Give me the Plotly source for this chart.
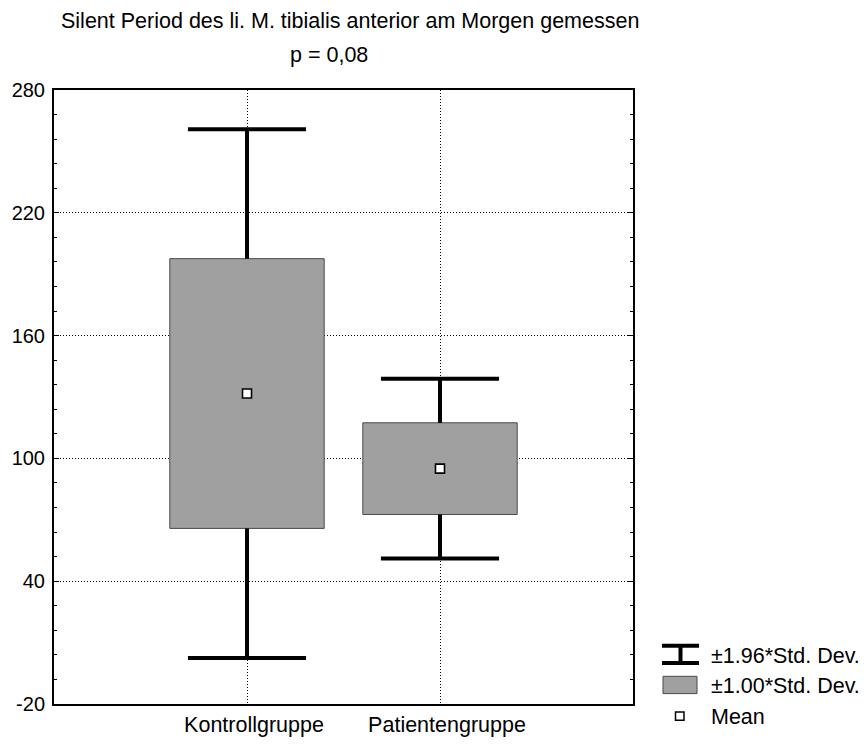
import plotly.graph_objects as go

# ---- data ----
groups = ["Kontrollgruppe", "Patientengruppe"]
means = [131.7, 95.0]
sds = [65.9, 22.4]
y_ticks = [-20, 40, 100, 160, 220, 280]
y_tick_text = ["-20", "40", "100", "160", "220", "280"]
title_line1 = "Silent Period des li. M. tibialis anterior am Morgen gemessen"
title_line2 = "p = 0,08"
legend_labels = ["±1.96*Std. Dev.", "±1.00*Std. Dev.", "Mean"]

FONT = "Liberation Sans, Arial, Helvetica, sans-serif"
W, H = 868, 749
ML, MR, MT, MB = 54, 235, 90, 38
PW, PH = W - ML - MR, H - MT - MB

def px(x):
    return (x - ML) / PW

def py(y):
    return (MT + PH - y) / PH

xpos = list(range(1, len(groups) + 1))
box_w = 0.8
cap_half = 0.306

fig = go.Figure()

# boxes (mean ± 1 SD)
fig.add_trace(go.Bar(
    x=xpos,
    y=[2 * s for s in sds],
    base=[m - s for m, s in zip(means, sds)],
    width=box_w,
    marker=dict(color="#a0a0a0", line=dict(color="#4a4a4a", width=1)),
    showlegend=False, hoverinfo="skip",
))

# whiskers (mean ± 1.96 SD)
for xi, m, s in zip(xpos, means, sds):
    hi = m + 1.96 * s
    lo = m - 1.96 * s
    for xs, ys in [
        ([xi, xi], [m + s, hi]),
        ([xi, xi], [m - s, lo]),
        ([xi - cap_half, xi + cap_half], [hi, hi]),
        ([xi - cap_half, xi + cap_half], [lo, lo]),
    ]:
        fig.add_trace(go.Scatter(
            x=xs, y=ys, mode="lines",
            line=dict(color="black", width=4),
            showlegend=False, hoverinfo="skip",
        ))

# means
fig.add_trace(go.Scatter(
    x=xpos, y=means, mode="markers",
    marker=dict(symbol="square", size=9, color="white",
                line=dict(color="black", width=1.6)),
    showlegend=False, hoverinfo="skip",
))

shapes = []
annotations = []
TF = 21.5

# titles
annotations.append(dict(text=title_line1, xref="paper", yref="paper",
                        x=px(59), y=py(20), xanchor="left", yanchor="middle",
                        showarrow=False, font=dict(family=FONT, size=TF, color="black")))
annotations.append(dict(text=title_line2, xref="paper", yref="paper",
                        x=px(288), y=py(55), xanchor="left", yanchor="middle",
                        showarrow=False, font=dict(family=FONT, size=TF, color="black")))

# legend (custom)
shapes.append(dict(type="line", xref="paper", yref="paper",
                   x0=px(662), x1=px(699), y0=py(652), y1=py(652),
                   line=dict(color="black", width=4)))
shapes.append(dict(type="line", xref="paper", yref="paper",
                   x0=px(662), x1=px(699), y0=py(669.5), y1=py(669.5),
                   line=dict(color="black", width=4)))
shapes.append(dict(type="line", xref="paper", yref="paper",
                   x0=px(680.5), x1=px(680.5), y0=py(652), y1=py(669.5),
                   line=dict(color="black", width=4)))
shapes.append(dict(type="rect", xref="paper", yref="paper",
                   x0=px(663), x1=px(697), y0=py(683), y1=py(700.5),
                   fillcolor="#a0a0a0", line=dict(color="#4a4a4a", width=1)))
shapes.append(dict(type="rect", xref="paper", yref="paper",
                   x0=px(675.5), x1=px(684), y0=py(719), y1=py(727.5),
                   fillcolor="white", line=dict(color="black", width=1.5)))

for lab, yy in zip(legend_labels, [662.5, 692.5, 724]):
    annotations.append(dict(text=lab, xref="paper", yref="paper",
                            x=px(708.5), y=py(yy), xanchor="left", yanchor="middle",
                            showarrow=False,
                            font=dict(family=FONT, size=TF, color="black")))

fig.update_layout(
    width=W, height=H,
    margin=dict(l=ML, r=MR, t=MT, b=MB, pad=0),
    paper_bgcolor="white", plot_bgcolor="white",
    font=dict(family=FONT, size=20, color="black"),
    shapes=shapes, annotations=annotations,
    showlegend=False,
    bargap=0,
)

fig.update_xaxes(
    range=[0, len(groups) + 1],
    tickmode="array", tickvals=xpos, ticktext=groups,
    ticks="", showline=True, linecolor="black", linewidth=2, mirror=True,
    showgrid=True, gridcolor="black", gridwidth=1, griddash="1px,2px",
    zeroline=False, tickfont=dict(family=FONT, size=TF, color="black"),
    ticklabelshift=7,
    fixedrange=True,
)

fig.update_yaxes(
    range=[-20, 280],
    tickmode="array", tickvals=y_ticks, ticktext=y_tick_text,
    ticks="inside", ticklen=5, tickwidth=1, tickcolor="black",
    showline=True, linecolor="black", linewidth=2, mirror="allticks",
    showgrid=True, gridcolor="black", gridwidth=1, griddash="1px,2px",
    zeroline=False, tickfont=dict(family=FONT, size=20, color="black"),
    ticklabelstandoff=3,
    minor=dict(dtick=12, tick0=-20, ticks="inside", ticklen=3,
               tickcolor="black", showgrid=False),
    fixedrange=True,
)

css_js = (
    "var s=document.createElement('style');"
    "s.textContent='html,body{margin:0;padding:0;overflow:hidden;height:749px;width:868px;}"
    "body>div{line-height:0;font-size:0;}';"
    "document.head.appendChild(s);"
)

fig.write_html(
    "out.html",
    config={"displayModeBar": False, "staticPlot": True},
    post_script=css_js,
)
